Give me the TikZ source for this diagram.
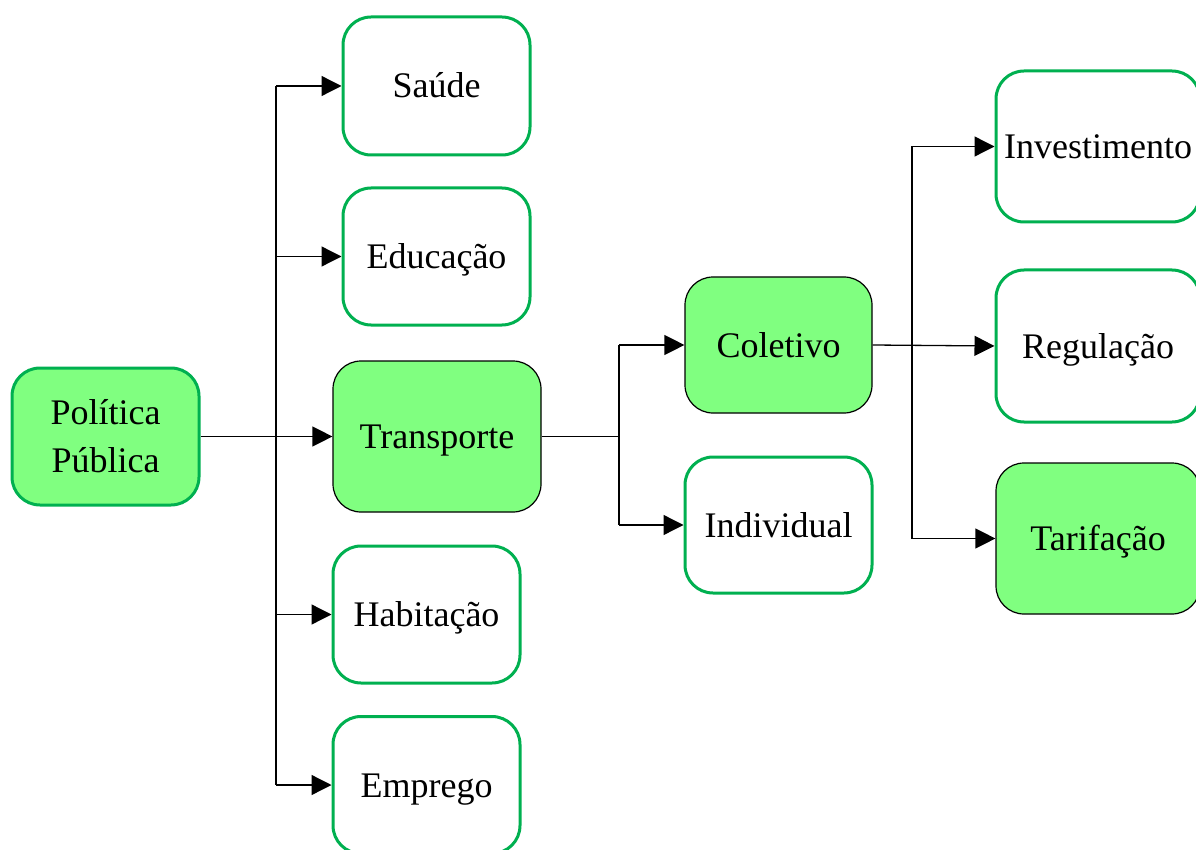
\documentclass[tikz,border=0pt]{standalone}
\usepackage{fontspec}
\setmainfont{Liberation Serif}
\usetikzlibrary{arrows.meta}
\definecolor{boxgreen}{HTML}{80FF80}
\definecolor{linegreen}{HTML}{00B050}
\begin{document}
\begin{tikzpicture}[x=1pt,y=-1pt,
  basebox/.style={rounded corners=28pt, align=center, font=\fontsize{36}{48}\selectfont, inner sep=0pt},
  box/.style={basebox, text height=32pt, text depth=8pt},
  wbox/.style={box, draw=linegreen, line width=3pt, fill=white},
  gbox/.style={box, draw=black, line width=1.2pt, fill=boxgreen},
  gboxg/.style={basebox, draw=linegreen, line width=3pt, fill=boxgreen},
  conn/.style={line width=1.3pt},
  arr/.style={conn, -{Triangle[length=20pt,width=20pt]}}]
\useasboundingbox (0,0) rectangle (1196,850);
\clip (0,0) rectangle (1196,850);

\node[gboxg, minimum width=187pt, minimum height=137pt] (pol) at (105.5,436.5) {Política\\Pública};
\node[wbox, minimum width=187pt, minimum height=138pt] (saude) at (436.5,86) {Saúde};
\node[wbox, minimum width=187pt, minimum height=137pt] (educ) at (436.5,256.5) {Educação};
\node[gbox, minimum width=208pt, minimum height=151pt] (transp) at (437,436.5) {Transporte};
\node[wbox, minimum width=187pt, minimum height=137pt] (habit) at (426.5,614.5) {Habitação};
\node[wbox, minimum width=187pt, minimum height=137pt] (empr) at (426.5,785) {Emprego};
\node[gbox, minimum width=187pt, minimum height=136pt] (colet) at (778.5,345) {Coletivo};
\node[wbox, minimum width=187pt, minimum height=136pt] (indiv) at (778.5,525) {Individual};
\node[wbox, minimum width=204pt, minimum height=151pt] (invest) at (1098,146.5) {Investimento};
\node[wbox, minimum width=204pt, minimum height=152pt] (regul) at (1098,346) {Regulação};
\node[gbox, minimum width=204pt, minimum height=151pt] (tarif) at (1098,538.5) {Tarifação};

% first level bus
\coordinate (j1) at (276,436.5);
\draw[conn, line width=1.8pt] (pol.east) -- (j1);
\draw[conn] (saude.west -| j1) -- (empr.west -| j1);
\draw[arr] (saude.west -| j1) -- (saude.west);
\draw[arr] (educ.west -| j1) -- (educ.west);
\draw[arr] (j1) -- (transp.west);
\draw[arr] (habit.west -| j1) -- (habit.west);
\draw[arr] (empr.west -| j1) -- (empr.west);

% second level bus
\coordinate (j2) at (619,436.5);
\draw[conn] (transp.east) -- (j2);
\draw[conn] (colet.west -| j2) -- (indiv.west -| j2);
\draw[arr] (colet.west -| j2) -- (colet.west);
\draw[arr] (indiv.west -| j2) -- (indiv.west);

% third level bus
\coordinate (j3) at (912,345);
\draw[conn] (invest.west -| j3) -- (tarif.west -| j3);
\draw[arr] (colet.east) -- (regul.west);
\draw[arr] (invest.west -| j3) -- (invest.west);
\draw[arr] (tarif.west -| j3) -- (tarif.west);
\end{tikzpicture}
\end{document}
